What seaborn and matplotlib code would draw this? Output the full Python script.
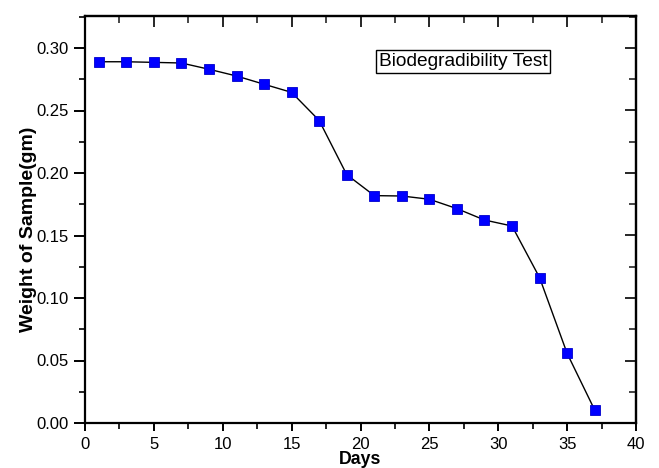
import matplotlib
matplotlib.use("Agg")
import matplotlib.pyplot as plt
import seaborn as sns
import pandas as pd
from matplotlib.ticker import MultipleLocator

# Weight of the sample measured every second day
days = [1, 3, 5, 7, 9, 11, 13, 15, 17, 19, 21, 23, 25, 27, 29, 31, 33, 35, 37]
weight = [0.289, 0.289, 0.2885, 0.288, 0.283, 0.2776, 0.271, 0.2645, 0.242,
          0.1987, 0.1819, 0.1816, 0.179, 0.1715, 0.1624, 0.1576, 0.1163,
          0.0557, 0.0104]

x_ticks = [0, 5, 10, 15, 20, 25, 30, 35, 40]
y_ticks = [0.00, 0.05, 0.10, 0.15, 0.20, 0.25, 0.30]
y_tick_labels = ["0.00", "0.05", "0.10", "0.15", "0.20", "0.25", "0.30"]

sns.set_theme(style="white")
plt.rcParams["font.family"] = ["Liberation Sans", "DejaVu Sans"]

df = pd.DataFrame({"Days": days, "Weight": weight})

fig = plt.figure(figsize=(6.59, 4.68), dpi=100)
ax = fig.add_axes([85 / 659, 1 - 423 / 468, 551 / 659, 407 / 468])

sns.lineplot(data=df, x="Days", y="Weight", ax=ax, color="black", linewidth=1.0,
             marker="s", markersize=6.5, markerfacecolor="#0000ff",
             markeredgecolor="#0000cc", markeredgewidth=0.6, zorder=3)

ax.set_xlim(0, 40)
ax.set_ylim(0, 0.3256)
ax.set_xticks(x_ticks)
ax.set_yticks(y_ticks)
ax.set_yticklabels(y_tick_labels)
ax.xaxis.set_minor_locator(MultipleLocator(2.5))
ax.yaxis.set_minor_locator(MultipleLocator(0.025))

for side in ax.spines.values():
    side.set_visible(True)
    side.set_color("black")
    side.set_linewidth(1.6)

ax.tick_params(axis="both", which="major", direction="out", width=1.4,
               labelsize=12, colors="black")
ax.tick_params(axis="both", which="minor", direction="out", length=4, width=1.2,
               colors="black")
ax.tick_params(axis="y", which="major", pad=4, length=8)
ax.tick_params(axis="x", which="major", pad=4, length=6)
ax.tick_params(bottom=True, left=True, which="both")

# inward ticks on the top and right frame edges
top = ax.secondary_xaxis("top")
top.set_xticks(x_ticks)
top.xaxis.set_minor_locator(MultipleLocator(2.5))
top.tick_params(which="major", direction="in", length=8, width=1.4, labeltop=False)
top.tick_params(which="minor", direction="in", length=5, width=1.2)
top.spines["top"].set_linewidth(1.6)

right = ax.secondary_yaxis("right")
right.set_yticks(y_ticks)
right.yaxis.set_minor_locator(MultipleLocator(0.025))
right.tick_params(which="major", direction="in", length=8, width=1.4, labelright=False)
right.tick_params(which="minor", direction="in", length=5, width=1.2)
right.spines["right"].set_linewidth(1.6)

ax.set_xlabel("Days", fontsize=12.8, fontweight="bold", color="black")
ax.set_ylabel("Weight of Sample(gm)", fontsize=14, fontweight="bold", color="black")
ax.xaxis.set_label_coords(0.5, -0.069)
ax.yaxis.set_label_coords(-0.087, 0.475)

ax.text(0.686, 0.888, "Biodegradibility Test", transform=ax.transAxes,
        fontsize=13.8, ha="center", va="center", color="black",
        bbox=dict(boxstyle="square,pad=0.14", facecolor="white",
                  edgecolor="black", linewidth=1.0))

fig.savefig("out.png", dpi=100, facecolor="white")
